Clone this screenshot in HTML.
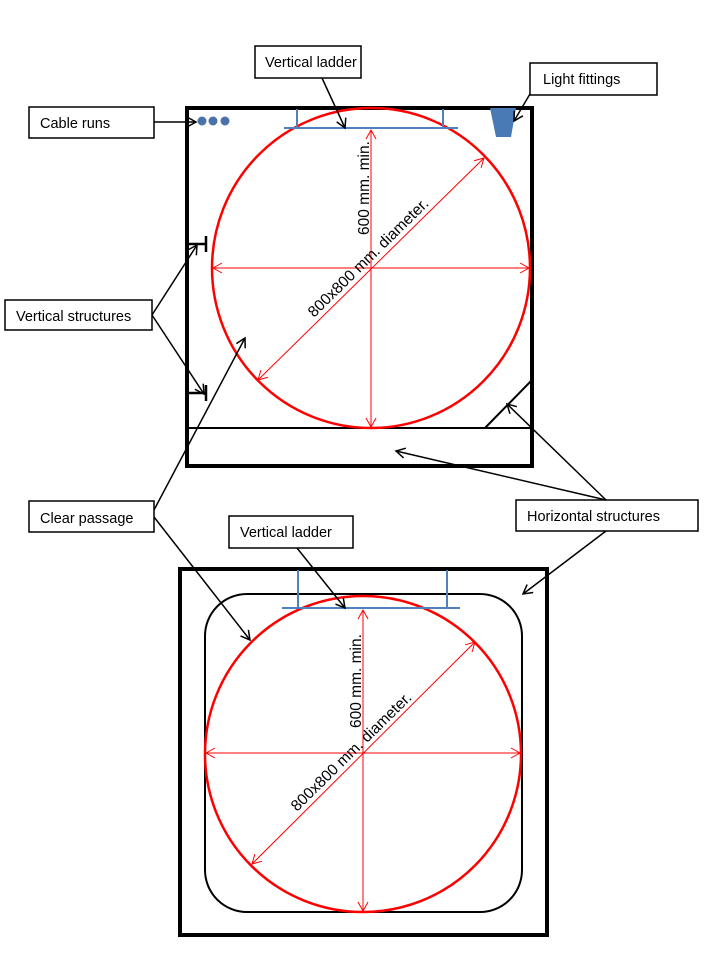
<!DOCTYPE html>
<html><head><meta charset="utf-8"><style>
html,body{margin:0;padding:0;background:#fff;}
svg{display:block;}
text{font-family:"Liberation Sans",sans-serif;font-size:14.5px;fill:#000;}
.rot{font-size:15.5px;}
</style></head><body>
<svg width="721" height="966" viewBox="0 0 721 966" xmlns="http://www.w3.org/2000/svg">
<defs>
<marker id="ab" markerWidth="12" markerHeight="12" refX="10" refY="6" orient="auto" markerUnits="userSpaceOnUse"><path d="M1,1 L10,6 L1,11" fill="none" stroke="#000" stroke-width="1.5"/></marker>
<marker id="ar" markerWidth="12" markerHeight="12" refX="10" refY="6" orient="auto-start-reverse" markerUnits="userSpaceOnUse"><path d="M1,1 L10,6 L1,11" fill="none" stroke="#f00" stroke-width="1"/></marker>
</defs>

<rect x="187" y="108" width="345" height="358" fill="none" stroke="#000" stroke-width="4"/>
<line x1="187" y1="428" x2="532" y2="428" stroke="#000" stroke-width="2"/>
<line x1="485" y1="428" x2="532" y2="380" stroke="#000" stroke-width="2"/>
<ellipse cx="371" cy="268" rx="159" ry="160" fill="none" stroke="#f00" stroke-width="2.5"/>
<line x1="213" y1="268" x2="529" y2="268" stroke="#f00" stroke-width="1" marker-start="url(#ar)" marker-end="url(#ar)"/>
<line x1="371" y1="130" x2="371" y2="427" stroke="#f00" stroke-width="1" marker-start="url(#ar)" marker-end="url(#ar)"/>
<line x1="258" y1="380" x2="484" y2="158" stroke="#f00" stroke-width="1" marker-start="url(#ar)" marker-end="url(#ar)"/>
<text class="rot" transform="translate(369,235) rotate(-90)">600 mm. min.</text>
<text class="rot" transform="translate(314,318) rotate(-44.5)">800x800 mm. diameter.</text>
<line x1="284" y1="128" x2="458" y2="128" stroke="#4f81bd" stroke-width="2"/>
<line x1="297" y1="109" x2="297" y2="128" stroke="#4f81bd" stroke-width="2"/>
<line x1="443" y1="109" x2="443" y2="128" stroke="#4f81bd" stroke-width="2"/>
<circle cx="202" cy="121" r="4.5" fill="#4a72a8"/>
<circle cx="213" cy="121" r="4.5" fill="#4a72a8"/>
<circle cx="225" cy="121" r="4.5" fill="#4a72a8"/>
<polygon points="490,108 516,108 511,137 496,137" fill="#4a7ab5"/>
<path d="M189,244 H206 M206,236 V252" stroke="#000" stroke-width="2.5" fill="none"/>
<path d="M189,393 H206 M206,385 V401" stroke="#000" stroke-width="2.5" fill="none"/>

<rect x="180" y="569" width="367" height="366" fill="none" stroke="#000" stroke-width="4"/>
<rect x="205" y="594" width="317" height="318" rx="42" ry="42" fill="none" stroke="#000" stroke-width="2"/>
<ellipse cx="363" cy="754" rx="158" ry="158" fill="none" stroke="#f00" stroke-width="2.5"/>
<line x1="206" y1="753" x2="520" y2="753" stroke="#f00" stroke-width="1" marker-start="url(#ar)" marker-end="url(#ar)"/>
<line x1="363" y1="610" x2="363" y2="911" stroke="#f00" stroke-width="1" marker-start="url(#ar)" marker-end="url(#ar)"/>
<line x1="252" y1="864" x2="475" y2="642" stroke="#f00" stroke-width="1" marker-start="url(#ar)" marker-end="url(#ar)"/>
<text class="rot" transform="translate(361,728) rotate(-90)">600 mm. min.</text>
<text class="rot" transform="translate(297,812) rotate(-44.5)">800x800 mm. diameter.</text>
<line x1="282" y1="608" x2="460" y2="608" stroke="#4f81bd" stroke-width="2"/>
<line x1="298" y1="570" x2="298" y2="608" stroke="#4f81bd" stroke-width="2"/>
<line x1="447" y1="570" x2="447" y2="608" stroke="#4f81bd" stroke-width="2"/>

<g fill="#fff" stroke="#000" stroke-width="1.5">
<rect x="255" y="46" width="106" height="32"/>
<rect x="530" y="63" width="127" height="32"/>
<rect x="29" y="107" width="125" height="31"/>
<rect x="5" y="300" width="147" height="30"/>
<rect x="29" y="501" width="125" height="31"/>
<rect x="516" y="500" width="182" height="31"/>
<rect x="229" y="516" width="124" height="32"/>
</g>
<text x="265" y="67">Vertical ladder</text>
<text x="543" y="84">Light fittings</text>
<text x="40" y="128">Cable runs</text>
<text x="16" y="321">Vertical structures</text>
<text x="40" y="523">Clear passage</text>
<text x="527" y="521">Horizontal structures</text>
<text x="240" y="537">Vertical ladder</text>

<g stroke="#000" stroke-width="1.5" fill="none" marker-end="url(#ab)">
<line x1="322" y1="78" x2="345" y2="128"/>
<line x1="530" y1="94" x2="514" y2="121"/>
<line x1="154" y1="122" x2="196" y2="122"/>
<line x1="152" y1="315" x2="197" y2="245"/>
<line x1="152" y1="315" x2="204" y2="394"/>
<line x1="154" y1="510" x2="245" y2="338"/>
<line x1="154" y1="517" x2="250" y2="640"/>
<line x1="606" y1="500" x2="396" y2="451"/>
<line x1="606" y1="500" x2="507" y2="404"/>
<line x1="606" y1="531" x2="523" y2="594"/>
<line x1="297" y1="548" x2="345" y2="608"/>
</g>
</svg>
</body></html>
